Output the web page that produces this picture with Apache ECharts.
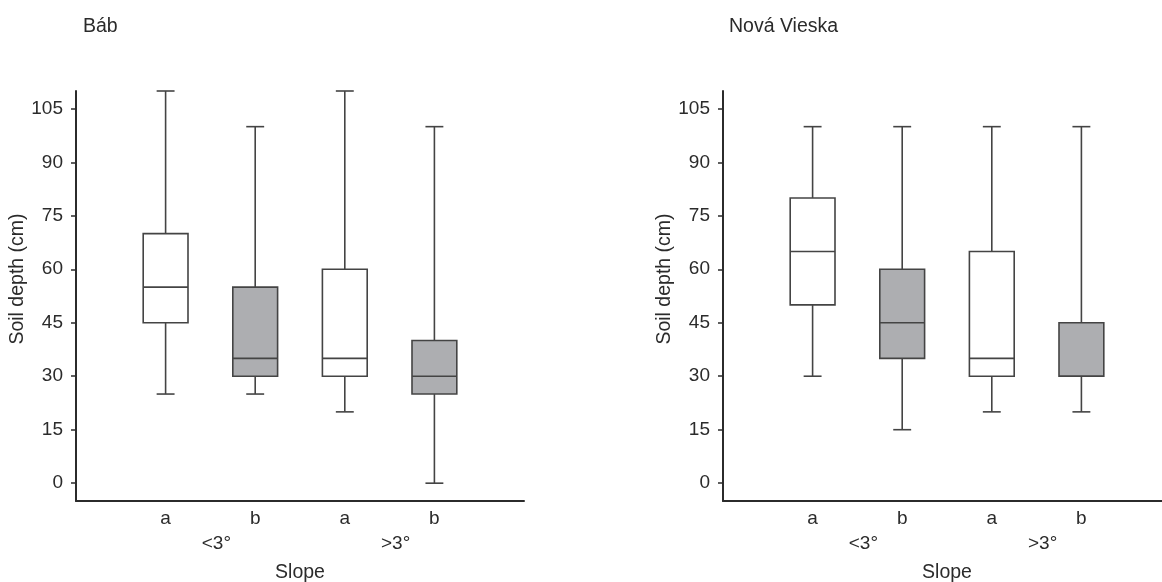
<!DOCTYPE html>
<html>
<head>
<meta charset="utf-8">
<script src="https://cdn.jsdelivr.net/npm/echarts@6/dist/echarts.min.js"></script>
<style>
  html, body { margin: 0; padding: 0; background: #fff; }
  #chart { width: 1162px; height: 582px; }
</style>
</head>
<body>
<div id="chart"></div>
<script>
const categories = ["", "a", "b", "a", "b", ""];
const slopeCategories = ["", "", "", "<3°", "", "", "", ">3°", "", "", ""];
const yTicks = [0, 15, 30, 45, 60, 75, 90, 105];

const babLow = [25, 25, 20, 0];
const babQ1 = [45, 30, 30, 25];
const babMedian = [55, 35, 35, 30];
const babQ3 = [70, 55, 60, 40];
const babHigh = [110, 100, 110, 100];

const novaLow = [30, 15, 20, 20];
const novaQ1 = [50, 35, 30, 30];
const novaMedian = [65, 45, 35, 30];
const novaQ3 = [80, 60, 65, 45];
const novaHigh = [100, 100, 100, 100];

const TEXT = "#2b2b2b";
const LINE = "#444";
const GREY = "#adaeb1";
const FONT = "Liberation Sans, Arial, sans-serif";

function boxRows(low, q1, med, q3, high) {
  return low.map((_, i) => [i + 1, low[i], q1[i], med[i], q3[i], high[i]]);
}

function renderBox(params, api) {
  const x = api.value(0);
  const band = api.size([1, 0])[0];
  const half = band * 0.25;
  const cap = band * 0.1;
  const pLow = api.coord([x, api.value(1)]);
  const pQ1 = api.coord([x, api.value(2)]);
  const pMed = api.coord([x, api.value(3)]);
  const pQ3 = api.coord([x, api.value(4)]);
  const pHigh = api.coord([x, api.value(5)]);
  const fill = categories[x] === "b" ? GREY : "#fff";
  const line = { stroke: LINE, lineWidth: 1.6 };
  const cx = pQ1[0];
  return {
    type: "group",
    children: [
      { type: "line", shape: { x1: cx, y1: pHigh[1], x2: cx, y2: pQ3[1] }, style: line },
      { type: "line", shape: { x1: cx - cap, y1: pHigh[1], x2: cx + cap, y2: pHigh[1] }, style: line },
      { type: "line", shape: { x1: cx, y1: pQ1[1], x2: cx, y2: pLow[1] }, style: line },
      { type: "line", shape: { x1: cx - cap, y1: pLow[1], x2: cx + cap, y2: pLow[1] }, style: line },
      { type: "rect", shape: { x: cx - half, y: pQ3[1], width: half * 2, height: pQ1[1] - pQ3[1] },
        style: { fill: fill, stroke: LINE, lineWidth: 1.6 } },
      { type: "line", shape: { x1: cx - half, y1: pMed[1], x2: cx + half, y2: pMed[1] }, style: line }
    ]
  };
}

function mainX(gridIndex) {
  return {
    type: "category", gridIndex, data: categories, boundaryGap: false, position: "bottom",
    axisLine: { onZero: false, lineStyle: { color: TEXT, width: 2 } },
    axisTick: { show: false },
    axisLabel: { color: TEXT, fontSize: 19, fontFamily: FONT, interval: 0, margin: 8 },
    splitLine: { show: false }
  };
}

function slopeX(gridIndex) {
  return {
    type: "category", gridIndex, data: slopeCategories, boundaryGap: false,
    position: "bottom", offset: 25,
    axisLine: { show: false, onZero: false }, axisTick: { show: false },
    axisLabel: { color: TEXT, fontSize: 19, fontFamily: FONT, interval: 0, margin: 8, padding: [0, 0, 0, 12] },
    name: "Slope", nameLocation: "middle", nameGap: 37,
    nameTextStyle: { color: TEXT, fontSize: 19.5, fontFamily: FONT },
    splitLine: { show: false }
  };
}

function yAxis(gridIndex) {
  return {
    type: "value", gridIndex, min: -5, max: 110,
    axisLine: { show: true, onZero: false, lineStyle: { color: TEXT, width: 2 } },
    axisTick: { show: true, length: 5, customValues: yTicks, lineStyle: { color: TEXT, width: 1.5 } },
    axisLabel: { color: TEXT, fontSize: 19, fontFamily: FONT, margin: 13, customValues: yTicks },
    splitLine: { show: false },
    name: "Soil depth (cm)", nameLocation: "middle", nameRotate: 90, nameGap: 39,
    nameTextStyle: { color: TEXT, fontSize: 19.5, fontFamily: FONT, padding: [0, 0, 0, 34] }
  };
}

const chart = echarts.init(document.getElementById("chart"), null, { renderer: "canvas" });
chart.setOption({
  animation: false,
  backgroundColor: "#fff",
  title: [
    { text: "Báb", left: 78, top: 12, textStyle: { color: TEXT, fontSize: 19.5, fontWeight: "normal", fontFamily: FONT } },
    { text: "Nová Vieska", left: 724, top: 12, textStyle: { color: TEXT, fontSize: 19.5, fontWeight: "normal", fontFamily: FONT } }
  ],
  grid: [
    { left: 76, top: 91, width: 448, height: 410, outerBoundsMode: "none" },
    { left: 723, top: 91, width: 448, height: 410, outerBoundsMode: "none" }
  ],
  xAxis: [mainX(0), slopeX(0), mainX(1), slopeX(1)],
  yAxis: [yAxis(0), yAxis(1)],
  series: [
    { type: "custom", xAxisIndex: 0, yAxisIndex: 0, renderItem: renderBox,
      encode: { x: 0, y: [1, 2, 3, 4, 5] }, data: boxRows(babLow, babQ1, babMedian, babQ3, babHigh) },
    { type: "custom", xAxisIndex: 2, yAxisIndex: 1, renderItem: renderBox,
      encode: { x: 0, y: [1, 2, 3, 4, 5] }, data: boxRows(novaLow, novaQ1, novaMedian, novaQ3, novaHigh) }
  ]
});
</script>
</body>
</html>
